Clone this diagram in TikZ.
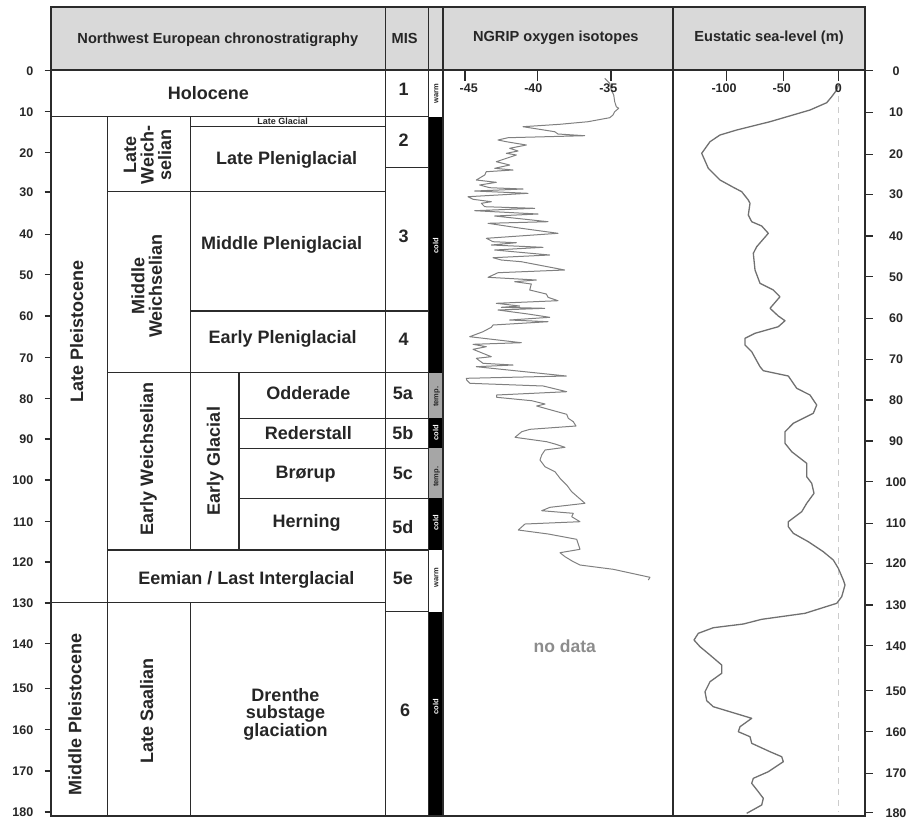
\documentclass[tikz,border=0pt]{standalone}
\usepackage{fontspec}
\setmainfont{Liberation Sans}
\definecolor{txt}{HTML}{262626}
\definecolor{linecol}{HTML}{2B2B2B}
\definecolor{hdrfill}{HTML}{D9D9D9}
\definecolor{curvecol}{HTML}{808080}
\definecolor{seacol}{HTML}{707070}
\definecolor{tempcol}{HTML}{A6A6A6}
\definecolor{dashcol}{HTML}{CCCCCC}
\definecolor{ndcol}{HTML}{8C8C8C}
\tikzset{
  gridln/.style={draw=linecol, line width=1.4pt},
  borderln/.style={draw=linecol, line width=2.2pt},
  big/.style={font=\bfseries\fontsize{18}{17.5}\selectfont, text=txt, inner sep=0pt, align=center},
  one/.style={big, text height=12.9pt, text depth=0pt},
  rot/.style={one, rotate=90},
  mrot/.style={big, rotate=90},
  hd/.style={font=\bfseries\fontsize{14.6}{16}\selectfont, text=txt, inner sep=0pt, text height=10.5pt, text depth=0pt},
  ax/.style={font=\bfseries\fontsize{12.5}{14}\selectfont, text=txt, inner sep=0pt, text height=9pt, text depth=0pt},
  cl/.style={font=\bfseries\fontsize{7.5}{8}\selectfont, inner sep=0pt, rotate=90, text height=5.4pt, text depth=0pt},
  small/.style={font=\bfseries\fontsize{9}{10}\selectfont, text=txt, inner sep=0pt, text height=6.5pt, text depth=0pt},
  nd/.style={font=\bfseries\fontsize{17.5}{18}\selectfont, text=ndcol, inner sep=0pt, text height=12.7pt, text depth=0pt},
  curve/.style={draw=curvecol, line width=1pt, line join=round},
  seacurve/.style={draw=seacol, line width=1.3pt, line join=round}
}
\begin{document}
\begin{tikzpicture}[x=1pt,y=-1pt]
\useasboundingbox (0,0) rectangle (912,820);
% fills
\fill[hdrfill] (51,7) rectangle (865,70);
\fill[black] (428.3,116.7) rectangle (443,372.7);
\fill[tempcol] (428.3,372.7) rectangle (443,418.3);
\fill[black] (428.3,418.3) rectangle (443,448.3);
\fill[tempcol] (428.3,448.3) rectangle (443,498.3);
\fill[black] (428.3,498.3) rectangle (443,550);
\fill[black] (428.3,611.7) rectangle (443,816);
% dashed zero line
\draw[dashcol, line width=1pt, dash pattern=on 6pt off 5pt] (838.3,96) -- (838.3,812);
% NGRIP curve
\draw[curve] plot coordinates {
(604.7,78.3) (609.7,83.3) (611.3,90) (613.7,95) (614.7,101.7) (616.3,106.7) (618.7,108.3)
(614.7,111.7) (613,115) (609.7,117.7) (588,121.7) (559.7,124.3) (523,126.7) (554.7,131.7)
(558,134) (584.7,135.7) (546.3,136.7) (508,137.7) (498,140) (506.3,141.7) (526.3,145)
(509.7,148.3) (518,151) (506.3,153.3) (516.3,155) (496.3,161.7) (509.7,165) (494.7,168.3)
(513,170) (486.3,171.7) (484.7,175) (476.3,180) (496.3,182.3) (479.7,185) (489.7,187.7)
(523,189) (474.7,191) (528,193.3) (468,196.7) (473,199.3) (491.3,201.7) (481.3,203.3)
(484.7,206.7) (534.7,208.3) (474.7,210.7) (538,214) (494.7,216) (548,221.7) (488,223.3)
(521.3,228.3) (558,233.3) (486.3,238.3) (493,241.7) (516.3,242.7) (491.3,245) (543,247.3)
(494.7,250) (549.7,255) (493,257.7) (501.3,260) (521.3,261.7) (564.7,270) (498,272.7)
(488,277.3) (536.3,280) (514.7,281.7) (531.3,284) (529.7,290) (546.3,294) (548,297.3)
(558,300.7) (496.3,303.3) (519.7,306) (501.3,307.3) (544.7,308.3) (498,310) (528,314)
(549.7,317.3) (509.7,320) (548,321.7) (493,325) (491.3,327.3) (483,331.7) (469.7,336.7)
(521.3,342.7) (473,344.3) (486.3,346.7) (473,349.3) (491.3,356.7) (476.3,358.3) (483,363.3)
(513,365) (476.3,366.7) (566.3,376) (466.3,378.3) (466.7,380) (470,383.3) (543.3,386)
(566.7,391.7) (496.7,395) (496.7,397.3) (531.7,400.7) (545,404) (536.7,406) (566.7,414.3)
(568.3,418.3) (573.3,421.7) (576,426) (530,429.3) (521.7,431.7) (515,437.3) (546.7,441.7)
(555,444) (565,447.3) (545,450) (541.7,455) (540,460) (545,466.7) (555,471.7) (560,478.3)
(566.7,485) (571.7,491.7) (585,503.3) (550,507.3) (541.7,510.7) (573.3,513.3) (571.7,516.7)
(580,521.7) (525,524) (518.3,530) (548.3,534) (576.7,539.3) (580,549.3) (560,552.7)
(565,556.7) (573.3,561.7) (580,565) (613.3,569.3) (650,577.3) (648.3,580)};
% sea-level curve
\draw[seacurve] plot coordinates {
(838.3,85) (836.7,90) (831.7,96.7) (826.7,102.7) (810,110) (770,121.7) (736.7,130) (720,135)
(710,141.7) (701.7,153.3) (708.3,168.3) (720,180) (733.3,187.3) (741.7,191.7) (748.3,200)
(750,203.3) (748.3,215) (751.7,221.7) (761.7,226) (768.3,233.3) (756.7,246.7) (753.3,253.3)
(755,270) (760,283.3) (773.3,290) (780,296.7) (770,308.3) (778.3,316) (785,320.7) (778.3,326.7)
(755,333.3) (745,338.3) (745,345) (751.7,351.7) (760,366.7) (763.3,370.7) (788.3,376)
(796.7,388.3) (810,395) (816.7,405) (813.3,413.3) (793.3,423.3) (785,431.7) (785,443.3)
(791.7,451.7) (806.7,463.3) (806.7,476.7) (811.7,483.3) (814,493.3) (806.7,503.3) (801.7,511.7)
(788.3,521.7) (788.3,526.7) (793.3,533.3) (808.3,541.7) (823.3,551.7) (833.3,560) (838.3,568.3)
(843.3,580) (845,585) (841.7,596.7) (836.7,603.3) (805,613.3) (761.7,619.3) (743.3,624)
(713.3,627.7) (698.3,633.3) (694,640) (700,646.7) (710,655) (721.7,665) (721.7,673.3)
(710,681.7) (705,691.7) (706.7,700.7) (713.3,706.7) (751.7,718.3) (740,726.7) (738.3,731.7)
(750,736.7) (751.7,743.3) (770,751.7) (781.7,756.7) (783.3,761.7) (768.3,771.7) (753.3,778.3)
(751.7,783.3) (758.3,791.7) (763.3,798.3) (761.7,805) (746.7,813.3)};
% grid lines
\draw[gridln] (385.7,7) -- (385.7,816);
\draw[gridln] (428.3,7) -- (428.3,816);
\draw[gridln] (107.3,116.7) -- (107.3,816);
\draw[gridln] (190.3,116.7) -- (190.3,550);
\draw[gridln] (190.3,602.7) -- (190.3,816);
\draw[gridln] (239,372.7) -- (239,550);
\draw[gridln] (51,116.7) -- (428.3,116.7);
\draw[gridln] (190.3,126.7) -- (385.7,126.7);
\draw[gridln] (385.7,167.7) -- (428.3,167.7);
\draw[gridln] (107.3,191.7) -- (385.7,191.7);
\draw[gridln] (190.3,311) -- (428.3,311);
\draw[gridln] (107.3,372.7) -- (428.3,372.7);
\draw[gridln] (239,418.3) -- (428.3,418.3);
\draw[gridln] (239,448.3) -- (428.3,448.3);
\draw[gridln] (239,498.3) -- (428.3,498.3);
\draw[gridln] (107.3,550) -- (428.3,550);
\draw[gridln] (51,602.7) -- (385.7,602.7);
\draw[gridln] (385.7,611.7) -- (428.3,611.7);
% borders
\draw[borderln] (51,7) rectangle (865,816);
\draw[borderln] (51,70) -- (865,70);
\draw[borderln] (443,7) -- (443,816);
\draw[borderln] (673,7) -- (673,816);
% left axis
\foreach \v/\y in {0/70.5,10/111.7,20/152.7,30/192,40/234.3,50/274.5,60/316,70/357.7,80/398.5,90/439,100/480,110/521.7,120/562,130/603,140/643.5,150/688.3,160/729.5,170/771,180/812}{
  \draw[gridln] (44.5,\y) -- (51,\y);
  \node[ax, anchor=east] (la\v) at (33.5,\y) {\v};
}
% right axis
\foreach \v/\y in {0/70.5,10/112.3,20/154.3,30/194.3,40/236,50/276.7,60/318.3,70/359.3,80/400,90/441,100/481.7,110/523.3,120/563.3,130/605,140/645.7,150/690.7,160/731.7,170/773.3,180/812.7}{
  \draw[gridln] (865,\y) -- (873,\y);
  \node[ax] (ra\v) at (896,\y) {\v};
}
% top axes
\foreach \x/\lx/\t in {465/468.7/-45,537.7/533.3/-40,611/608.3/-35,726.7/724/-100,783.3/781.7/-50,838.3/838.3/0}{
  \draw[gridln] (\x,70) -- (\x,80.5);
  \node[ax] (ta\t) at (\lx,87.5) {\t};
}
% headers
\node[hd] (hnw) at (217.8,38) {Northwest European chronostratigraphy};
\node[hd] (hmis) at (404.7,38) {MIS};
\node[hd] (hng) at (555.8,36.5) {NGRIP oxygen isotopes};
\node[hd] (hsl) at (769,36.5) {Eustatic sea-level (m)};
% table labels
\node[one] (holo) at (208.3,93.3) {Holocene};
\node[small] (lateglac) at (282.7,121.7) {Late Glacial};
\node[one] (latepleni) at (286.7,158.5) {Late Pleniglacial};
\node[one] (midpleni) at (281.7,242.7) {Middle Pleniglacial};
\node[one] (earlypleni) at (282.7,336.7) {Early Pleniglacial};
\node[one] (odd) at (308.3,393.3) {Odderade};
\node[one] (red) at (308.3,433.3) {Rederstall};
\node[one] (bro) at (305.5,471.7) {Brørup};
\node[one] (her) at (306.7,521) {Herning};
\node[one] (eem) at (246.3,578.3) {Eemian / Last Interglacial};
\node[big] (drenthe) at (285.5,714) {Drenthe\\substage\\glaciation};
\node[rot] (latepleist) at (76.7,331.7) {Late Pleistocene};
\node[rot] (midpleist) at (75,714) {Middle Pleistocene};
\node[mrot] (lateweich) at (147.5,155) {Late\\Weich-\\selian};
\node[mrot] (midweich) at (146.7,286) {Middle\\Weichselian};
\node[rot] (earlyweich) at (146.7,459) {Early Weichselian};
\node[rot] (earlyglac) at (213.3,461) {Early Glacial};
\node[rot] (latesaal) at (146.7,711) {Late Saalian};
% MIS
\node[one] (mis1) at (403.7,89.3) {1};
\node[one] (mis2) at (403.7,140) {2};
\node[one] (mis3) at (403.7,236) {3};
\node[one] (mis4) at (403.7,339.3) {4};
\node[one] (mis5a) at (402.8,393.3) {5a};
\node[one] (mis5b) at (402.8,433.3) {5b};
\node[one] (mis5c) at (402.8,472.7) {5c};
\node[one] (mis5d) at (402.8,526.7) {5d};
\node[one] (mis5e) at (402.8,578.3) {5e};
\node[one] (mis6) at (405,710) {6};
% climate labels
\node[cl, text=txt] (c1) at (435.6,93.3) {warm};
\node[cl, text=white] (c2) at (435.6,245.7) {cold};
\node[cl, text=txt] (c3) at (435.6,396.7) {temp.};
\node[cl, text=white] (c4) at (435.6,432.5) {cold};
\node[cl, text=txt] (c5) at (435.6,476.7) {temp.};
\node[cl, text=white] (c6) at (435.6,522.7) {cold};
\node[cl, text=txt] (c7) at (435.6,578) {warm};
\node[cl, text=white] (c8) at (435.6,706.7) {cold};
% no data
\node[nd] (nodata) at (564.7,646) {no data};
\end{tikzpicture}
\end{document}
